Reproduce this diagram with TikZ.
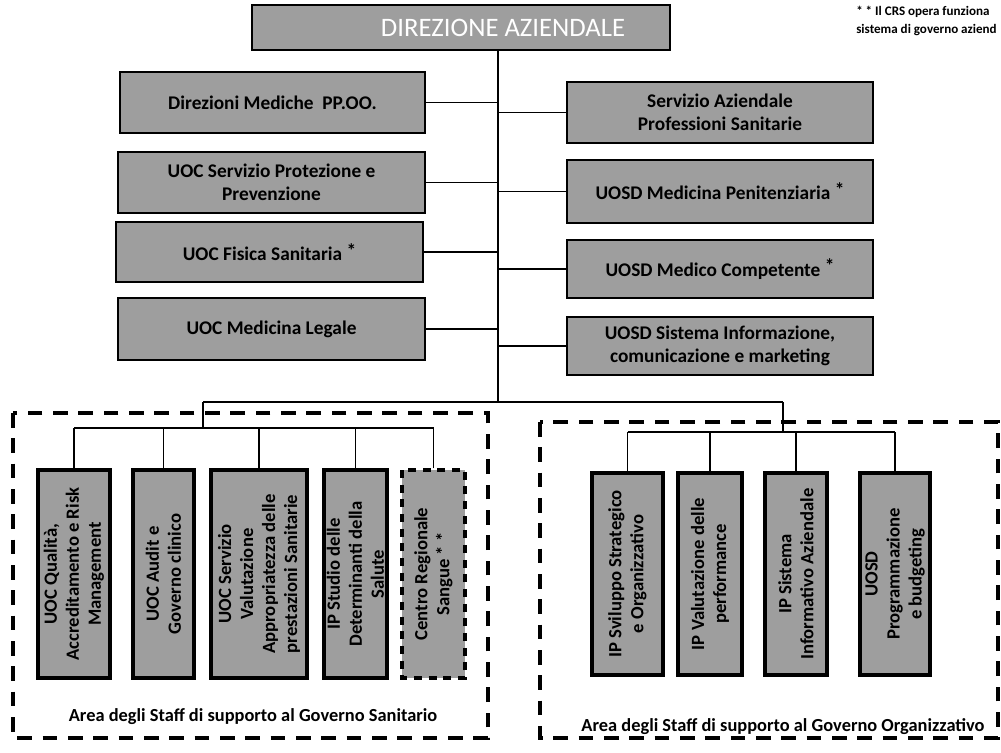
\documentclass[tikz,border=0pt]{standalone}
\usepackage{fontspec}
\setmainfont{Carlito}
\begin{document}
\begin{tikzpicture}[x=0.75pt,y=-0.75pt,
  unit/.style={draw=black, line width=2.2pt, fill=black!38, font=\bfseries\fontsize{14.5}{17}\selectfont, align=center, inner sep=1pt},
  vunit/.style={unit, rotate=90, line width=2.6pt, font=\bfseries\fontsize{14}{16.5}\selectfont, inner sep=0pt},
  link/.style={draw=black, line width=1.1pt},
  area/.style={draw=black, line width=2.4pt, dash pattern=on 11pt off 8pt},
  note/.style={font=\bfseries\fontsize{9.8}{11}\selectfont, anchor=west, inner sep=0pt},
  areatitle/.style={font=\bfseries\fontsize{13.8}{16}\selectfont, inner sep=0pt}
]
\useasboundingbox (0,0) rectangle (1001,753);

% top
\node[unit, minimum width=418*0.75pt, minimum height=45*0.75pt, font=\fontsize{20}{22}\selectfont, text=white] (dir) at (461,27.5) {\hspace*{63pt}DIREZIONE AZIENDALE};

\node[note] (n1) at (856,12) {* * Il CRS opera funziona};
\node[note] (n2) at (856,30) {sistema di governo aziend};

% left staff
\node[unit, minimum width=305*0.75pt, minimum height=61*0.75pt] (l1) at (272.5,102.5) {Direzioni Mediche\ \ PP.OO.};
\node[unit, minimum width=307*0.75pt, minimum height=61*0.75pt] (l2) at (271.5,182.5) {UOC Servizio Protezione e\\Prevenzione};
\node[unit, minimum width=307*0.75pt, minimum height=60*0.75pt] (l3) at (269.5,252) {UOC Fisica Sanitaria \raisebox{0.35ex}{*}};
\node[unit, minimum width=307*0.75pt, minimum height=62*0.75pt] (l4) at (271.5,329) {UOC Medicina Legale};

% right staff
\node[unit, minimum width=306*0.75pt, minimum height=61*0.75pt] (r1) at (720,112.5) {Servizio Aziendale\\Professioni Sanitarie};
\node[unit, minimum width=306*0.75pt, minimum height=63*0.75pt] (r2) at (720,191.5) {UOSD Medicina Penitenziaria \raisebox{0.35ex}{*}};
\node[unit, minimum width=306*0.75pt, minimum height=58*0.75pt] (r3) at (720,269) {UOSD Medico Competente \raisebox{0.35ex}{*}};
\node[unit, minimum width=306*0.75pt, minimum height=58*0.75pt] (r4) at (720,346) {UOSD Sistema Informazione,\\comunicazione e marketing};

% trunk
\coordinate (t) at (498,402);
\draw[link] (dir.south -| t) -- (t);
\foreach \n in {l1,l2,l3,l4} \draw[link] (\n.east) -- (\n.east -| t);
\foreach \n in {r1,r2,r3,r4} \draw[link] (\n.west) -- (\n.west -| t);

% bottom split
\coordinate (ga) at (203,402);
\coordinate (gb) at (783,402);
\coordinate (la) at (203,428);
\coordinate (rb) at (783,432);
\draw[link] (ga) -- (gb);
\draw[link] (ga) -- (la);
\draw[link] (gb) -- (rb);

% group frames
\draw[area] (13,413) rectangle (488,738);
\draw[area] (540,422) rectangle (998,738);

% left group boxes
\node[vunit, minimum width=208*0.75pt, minimum height=72*0.75pt] (b1) at (74,574) {UOC Qualità,\\Accreditamento e Risk\\Management};
\node[vunit, minimum width=208*0.75pt, minimum height=61*0.75pt] (b2) at (163.5,574) {UOC Audit e\\Governo clinico};
\node[vunit, minimum width=208*0.75pt, minimum height=96*0.75pt] (b3) at (259,574) {UOC Servizio\\Valutazione\\Appropriatezza delle\\prestazioni Sanitarie};
\node[vunit, minimum width=208*0.75pt, minimum height=63*0.75pt] (b4) at (355.5,574) {IP Studio delle\\Determinanti della\\Salute};
\node[vunit, minimum width=208*0.75pt, minimum height=63*0.75pt, dashed, dash pattern=on 6pt off 5pt] (b5) at (433.5,574) {Centro Regionale\\Sangue * *};

\draw[link] (b1.east |- la) -- (b5.east |- la);
\foreach \n in {b1,b2,b3,b4,b5} \draw[link] (\n.east) -- (\n.east |- la);

% right group boxes
\node[vunit, minimum width=202*0.75pt, minimum height=71*0.75pt] (c1) at (627.5,574) {IP Sviluppo Strategico\\e Organizzativo};
\node[vunit, minimum width=202*0.75pt, minimum height=64*0.75pt] (c2) at (710,574) {IP Valutazione delle\\performance};
\node[vunit, minimum width=202*0.75pt, minimum height=62*0.75pt] (c3) at (796,574) {IP Sistema\\Informativo Aziendale};
\node[vunit, minimum width=202*0.75pt, minimum height=70*0.75pt] (c4) at (895,574) {UOSD\\Programmazione\\e budgeting};

\draw[link] (c1.east |- rb) -- (c4.east |- rb);
\foreach \n in {c1,c2,c3,c4} \draw[link] (\n.east) -- (\n.east |- rb);

% captions
\node[areatitle] (a1) at (253,717) {Area degli Staff di supporto al Governo Sanitario};
\node[areatitle] (a2) at (783,727) {Area degli Staff di supporto al Governo Organizzativo};
\end{tikzpicture}
\end{document}
